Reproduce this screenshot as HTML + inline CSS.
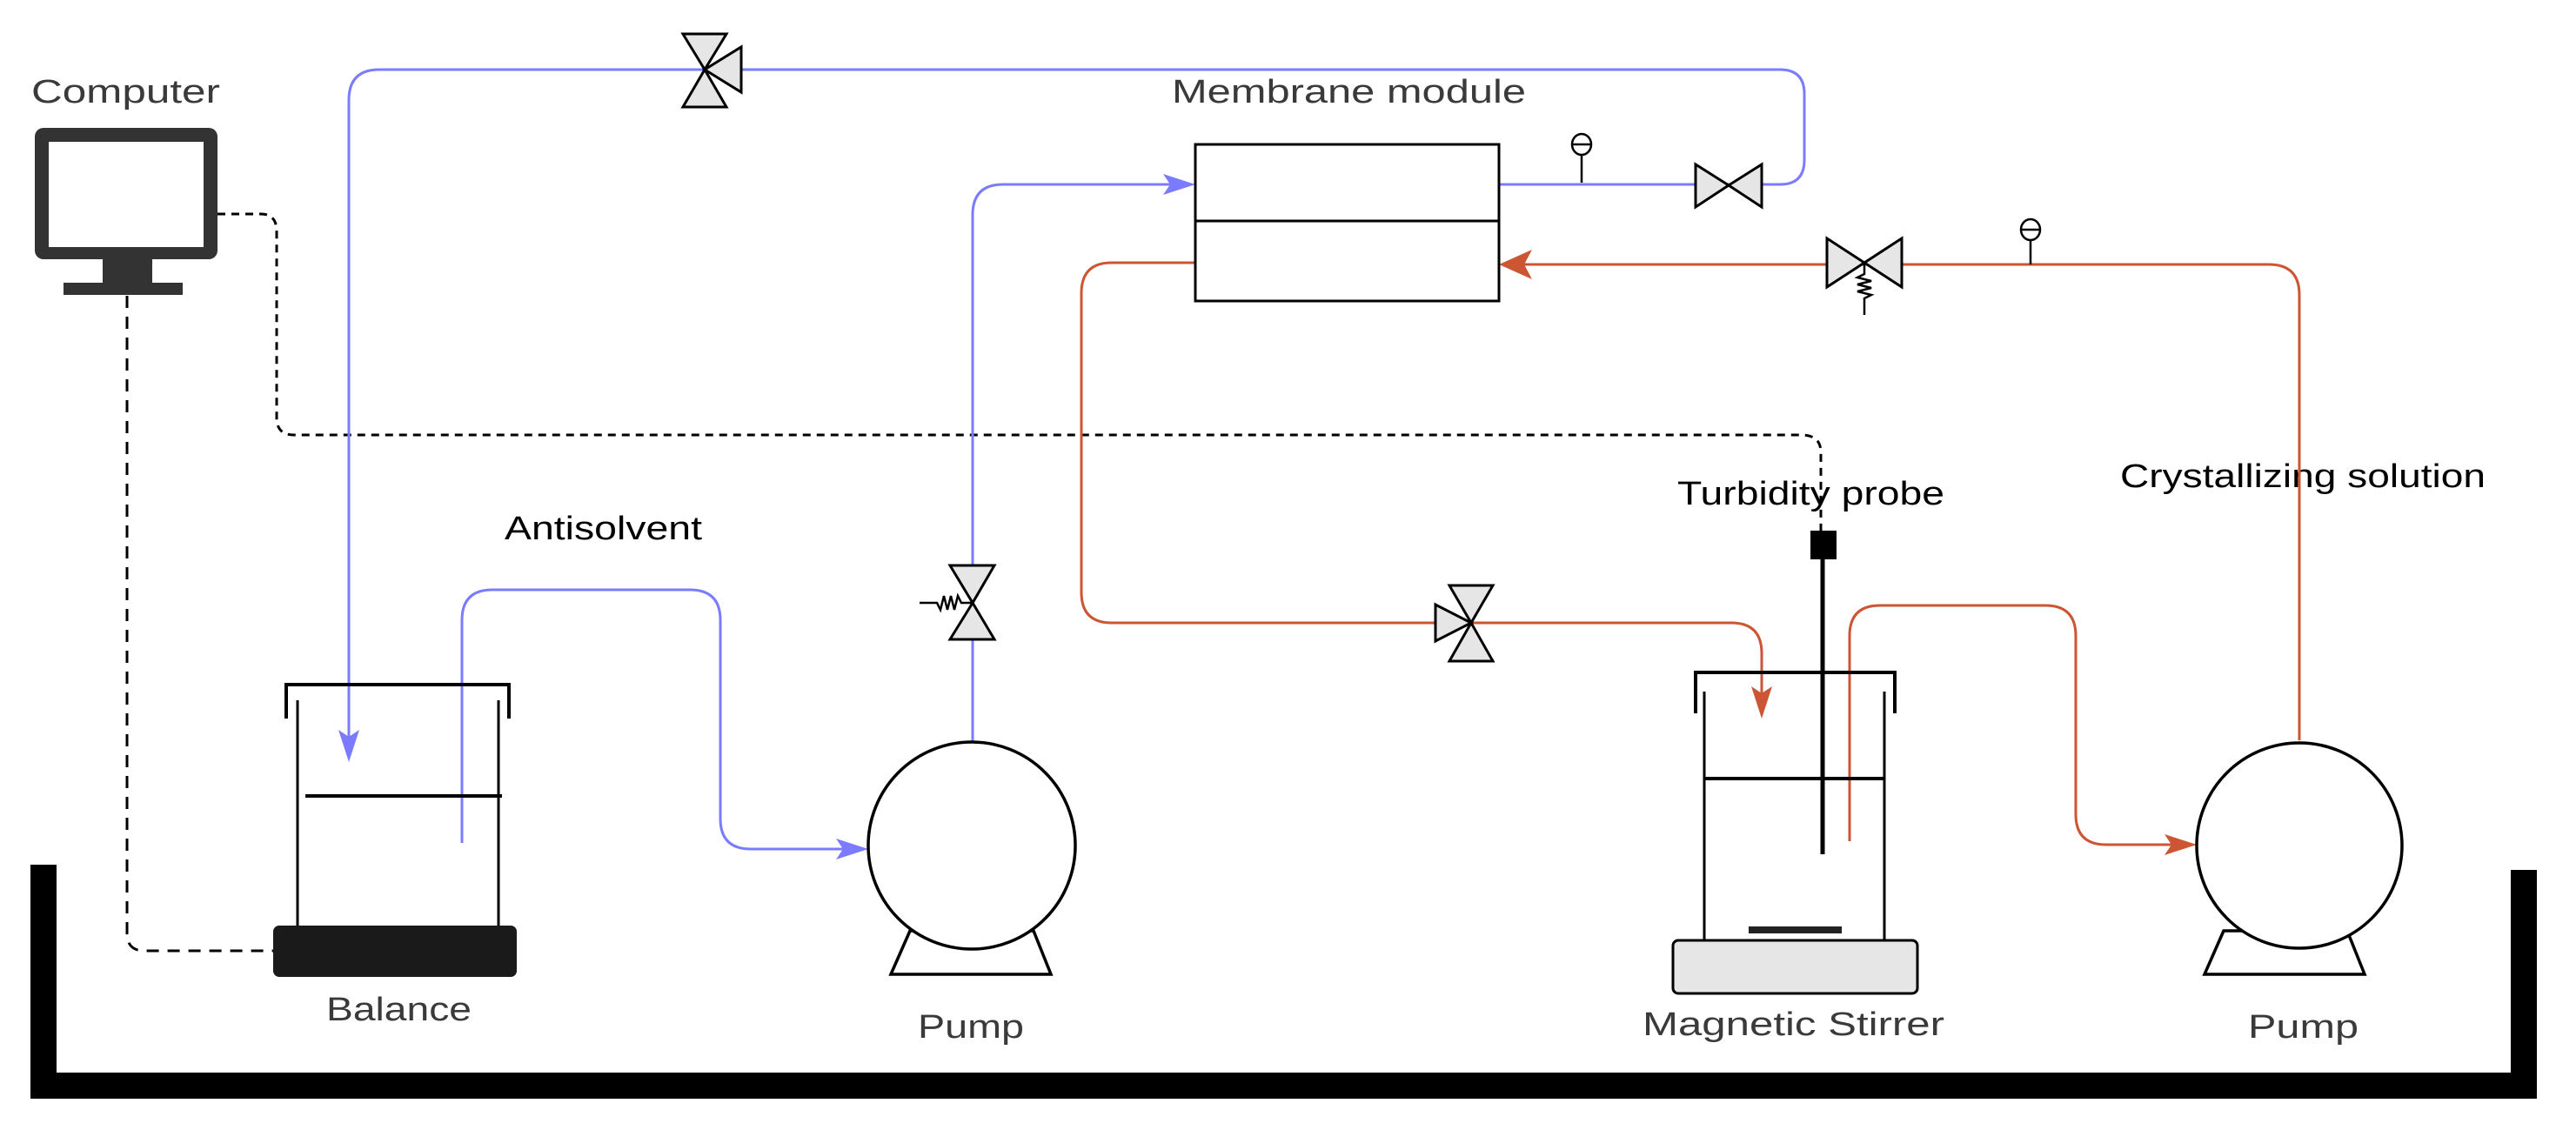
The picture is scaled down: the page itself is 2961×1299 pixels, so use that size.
<!DOCTYPE html>
<html><head><meta charset="utf-8"><style>
html,body{margin:0;padding:0;background:#fff;}
svg{display:block;}
text{font-family:"Liberation Sans",sans-serif;font-size:38px;}
</style></head><body>
<svg width="2961" height="1299" viewBox="0 0 2961 1299" xmlns="http://www.w3.org/2000/svg">
<defs>
<marker id="ab" viewBox="0 0 10 10" refX="9" refY="5" markerWidth="7" markerHeight="7" orient="auto" markerUnits="userSpaceOnUse">
</marker>
</defs>
<!-- labels -->
<text x="36" y="118" fill="#3a3a3a" textLength="217" lengthAdjust="spacingAndGlyphs">Computer</text>
<text x="1347" y="118" fill="#3a3a3a" textLength="407" lengthAdjust="spacingAndGlyphs">Membrane module</text>
<text x="580" y="620" fill="#000" textLength="227" lengthAdjust="spacingAndGlyphs">Antisolvent</text>
<text x="1928" y="580" fill="#000" textLength="307" lengthAdjust="spacingAndGlyphs">Turbidity probe</text>
<text x="2437" y="560" fill="#000" textLength="420" lengthAdjust="spacingAndGlyphs">Crystallizing solution</text>
<text x="375" y="1173" fill="#3a3a3a" textLength="167" lengthAdjust="spacingAndGlyphs">Balance</text>
<text x="1055" y="1193" fill="#3a3a3a" textLength="122" lengthAdjust="spacingAndGlyphs">Pump</text>
<text x="1888" y="1190" fill="#3a3a3a" textLength="347" lengthAdjust="spacingAndGlyphs">Magnetic Stirrer</text>
<text x="2584" y="1193" fill="#3a3a3a" textLength="127" lengthAdjust="spacingAndGlyphs">Pump</text>

<!-- tank -->
<path d="M50 994 V1248 H2901 V1000" fill="none" stroke="#000" stroke-width="30"/>

<!-- computer -->
<rect x="40" y="147" width="210" height="151" rx="10" fill="#333"/>
<rect x="56" y="163" width="178" height="121" fill="#fff"/>
<rect x="118" y="296" width="57" height="32" fill="#333"/>
<rect x="73" y="325" width="137" height="14" fill="#333"/>

<!-- dashed control lines -->
<path d="M250 246 H300 Q318 246 318 266 V480 Q318 500 338 500 H2070 Q2093 500 2093 520 V610" fill="none" stroke="#000" stroke-width="3" stroke-dasharray="9,7"/>
<path d="M146 340 V1073 Q146 1093 166 1093 H314" fill="none" stroke="#000" stroke-width="3" stroke-dasharray="14,10"/>

<!-- blue pipes -->
<g fill="none" stroke="#7b7bff" stroke-width="3">
<path d="M401 860 V115 Q401 80 436 80 H2046 Q2074 80 2074 108 V184 Q2074 212 2046 212 H1723"/>
<path d="M1118 852 V247 Q1118 212 1153 212 H1360"/>
<path d="M531 969 V713 Q531 678 566 678 H793 Q828 678 828 713 V941 Q828 976 863 976 H985"/>
</g>
<polygon points="401,876 389,839 401,847 413,839" fill="#7b7bff"/>
<polygon points="1374,212 1337,200 1345,212 1337,224" fill="#7b7bff"/>
<polygon points="998,976 961,964 969,976 961,988" fill="#7b7bff"/>

<!-- red pipes -->
<g fill="none" stroke="#cc5533" stroke-width="3">
<path d="M1374 302 H1278 Q1243 302 1243 337 V681 Q1243 716 1278 716 H1990 Q2025 716 2025 751 V810"/>
<path d="M1740 304 H2608 Q2643 304 2643 339 V851"/>
<path d="M2126 967 V731 Q2126 696 2161 696 H2351 Q2386 696 2386 731 V936 Q2386 971 2421 971 H2510"/>
</g>
<polygon points="1723,304 1761,287 1752,304 1761,321" fill="#cc5533"/>
<polygon points="2025,826 2013,789 2025,797 2037,789" fill="#cc5533"/>
<polygon points="2525,971 2488,959 2496,971 2488,983" fill="#cc5533"/>

<!-- membrane module -->
<rect x="1374" y="166" width="349" height="180" fill="none" stroke="#000" stroke-width="3"/>
<line x1="1374" y1="254" x2="1723" y2="254" stroke="#000" stroke-width="3"/>

<!-- gauges -->
<line x1="1818" y1="178" x2="1818" y2="210" stroke="#000" stroke-width="2.5"/>
<ellipse cx="1818" cy="166" rx="11" ry="12" fill="#fff" stroke="#000" stroke-width="2.5"/>
<line x1="1808" y1="166" x2="1828" y2="166" stroke="#000" stroke-width="2.5"/>
<line x1="2334" y1="276" x2="2334" y2="304" stroke="#000" stroke-width="2.5"/>
<ellipse cx="2334" cy="264" rx="11" ry="12" fill="#fff" stroke="#000" stroke-width="2.5"/>
<line x1="2324" y1="264" x2="2344" y2="264" stroke="#000" stroke-width="2.5"/>

<!-- valves -->
<g fill="#e6e6e6" stroke="#000" stroke-width="3" stroke-linejoin="miter">
<!-- top 3-way -->
<polygon points="785,39 835,39 810,80"/>
<polygon points="785,123 835,123 810,80"/>
<polygon points="852,54 852,106 810,80"/>
<!-- blue outlet -->
<polygon points="1949,189 1949,238 1987,213"/>
<polygon points="2025,189 2025,238 1987,213"/>
<!-- red inlet -->
<polygon points="2100,274 2100,330 2143,302"/>
<polygon points="2186,274 2186,330 2143,302"/>
<!-- blue pump valve -->
<polygon points="1092,650 1143,650 1118,693"/>
<polygon points="1092,735 1143,735 1118,693"/>
<!-- red 3-way -->
<polygon points="1666,673 1716,673 1691,716"/>
<polygon points="1666,760 1716,760 1691,716"/>
<polygon points="1650,695 1650,737 1691,716"/>
</g>
<!-- springs -->
<path d="M2143 302 V315 l-8 4 l16 4 l-16 4 l16 4 l-16 4 l16 4 l-8 4 V362" fill="none" stroke="#000" stroke-width="2.5"/>
<path d="M1118 693 H1105 l-4 -8 l-4 16 l-4 -16 l-4 16 l-4 -16 l-4 16 l-4 -8 H1057" fill="none" stroke="#000" stroke-width="2.5"/>

<!-- antisolvent beaker -->
<g stroke="#000" fill="none">
<path d="M329 826 V787 H585 V826" stroke-width="4"/>
<path d="M342 805 V1066 M573 805 V1066" stroke-width="3"/>
<line x1="351" y1="915" x2="577" y2="915" stroke-width="4"/>
</g>
<rect x="314" y="1064" width="280" height="59" rx="7" fill="#1a1a1a"/>

<!-- stirrer beaker -->
<g stroke="#000" fill="none">
<path d="M1949 820 V773 H2178 V820" stroke-width="4"/>
<path d="M1959 795 V1083 M2166 795 V1083" stroke-width="3"/>
<line x1="1959" y1="895" x2="2166" y2="895" stroke-width="4"/>
</g>
<rect x="2010" y="1065" width="107" height="8" fill="#222"/>
<rect x="1923" y="1081" width="281" height="61" rx="6" fill="#e6e6e6" stroke="#000" stroke-width="3"/>
<!-- probe -->
<line x1="2095" y1="640" x2="2095" y2="982" stroke="#000" stroke-width="5"/>
<rect x="2081" y="610" width="30" height="33" fill="#000"/>

<!-- pumps -->
<g fill="#fff" stroke="#000" stroke-width="3.5">
<polygon points="1046,1070 1024,1120 1208,1120 1188,1070"/>
<circle cx="1117" cy="972" r="119"/>
<polygon points="2556,1070 2534,1120 2718,1120 2698,1070"/>
<circle cx="2643" cy="972" r="118"/>
</g>
</svg>
</body></html>
